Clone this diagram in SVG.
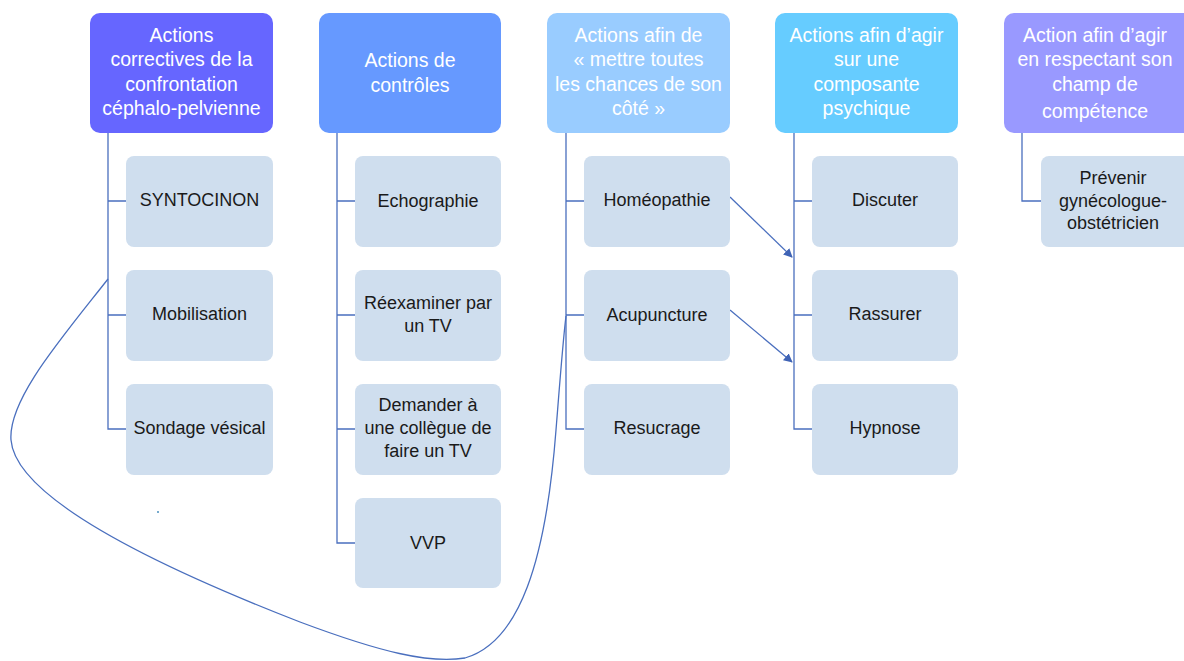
<svg xmlns="http://www.w3.org/2000/svg" width="1184" height="661" viewBox="0 0 1184 661">
<defs>
<style>
.h text{font-family:"Liberation Sans",Arial,sans-serif;font-size:19.5px;fill:#ffffff;text-anchor:middle}
.c rect{fill:#cfdeee}
.c text{font-family:"Liberation Sans",Arial,sans-serif;font-size:18px;fill:#1a1a1a;text-anchor:middle}
.ln{fill:none;stroke:#4a6fbe;stroke-width:1.3}
</style>
<marker id="ah" viewBox="0 0 10 10" refX="9" refY="5" markerWidth="9" markerHeight="9" markerUnits="userSpaceOnUse" orient="auto"><path d="M0,0 L10,5 L0,10 z" fill="#3f63b5"/></marker>
</defs>
<rect width="1184" height="661" fill="#ffffff"/>
<g id="connectors">
<path class="ln" d="M108,133 V429 H126 M108,201 H126 M108,315 H126"/>
<path class="ln" d="M337,133 V543 H355 M337,201 H355 M337,315 H355 M337,429 H355"/>
<path class="ln" d="M566,133 V429 H584 M566,201 H584 M566,315 H584"/>
<path class="ln" d="M794,133 V429 H812 M794,201 H812 M794,315 H812"/>
<path class="ln" d="M1022,133 V201 H1041"/>
<path class="ln" d="M730,197 L792,257" marker-end="url(#ah)"/>
<path class="ln" d="M730,310 L792,362" marker-end="url(#ah)"/>
<path class="ln" d="M108,279 C60,340 8,400 11,440 C15,490 120,552 300,622 C380,652 430,664 465,658 C520,642 546,560 556,430 C560,380 563,340 566,316"/>
<circle cx="158" cy="512" r="1" fill="#4a8fbe"/>
</g>
<g id="h1" class="h"><rect x="90" y="13" width="183" height="120" rx="10" fill="#6666ff"/>
<text x="181.5" y="42">Actions</text><text x="181.5" y="66">correctives de la</text><text x="181.5" y="91">confrontation</text><text x="181.5" y="115">céphalo-pelvienne</text></g>
<g id="h2" class="h"><rect x="319" y="13" width="182" height="120" rx="10" fill="#6699ff"/>
<text x="410" y="67">Actions de</text><text x="410" y="92">contrôles</text></g>
<g id="h3" class="h"><rect x="547" y="13" width="183" height="120" rx="10" fill="#99ccff"/>
<text x="638.5" y="42">Actions afin de</text><text x="638.5" y="66">« mettre toutes</text><text x="638.5" y="91">les chances de son</text><text x="638.5" y="115">côté »</text></g>
<g id="h4" class="h"><rect x="775" y="13" width="183" height="120" rx="10" fill="#66ccff"/>
<text x="866.5" y="42">Actions afin d’agir</text><text x="866.5" y="66">sur une</text><text x="866.5" y="91">composante</text><text x="866.5" y="115">psychique</text></g>
<g id="h5" class="h"><rect x="1004" y="13" width="190" height="120" rx="10" fill="#9999ff"/>
<text x="1095" y="42">Action afin d’agir</text><text x="1095" y="66">en respectant son</text><text x="1095" y="91">champ de</text><text x="1095" y="118">compétence</text></g>
<g id="n1a" class="c"><rect x="126" y="156" width="147" height="91" rx="8"/><text x="199.5" y="206">SYNTOCINON</text></g>
<g id="n1b" class="c"><rect x="126" y="270" width="147" height="91" rx="8"/><text x="199.5" y="320">Mobilisation</text></g>
<g id="n1c" class="c"><rect x="126" y="384" width="147" height="91" rx="8"/><text x="199.5" y="434">Sondage vésical</text></g>
<g id="n2a" class="c"><rect x="355" y="156" width="146" height="91" rx="8"/><text x="428" y="207">Echographie</text></g>
<g id="n2b" class="c"><rect x="355" y="270" width="146" height="91" rx="8"/><text x="428" y="309">Réexaminer par</text><text x="428" y="332">un TV</text></g>
<g id="n2c" class="c"><rect x="355" y="384" width="146" height="91" rx="8"/><text x="428" y="411">Demander à</text><text x="428" y="434">une collègue de</text><text x="428" y="457">faire un TV</text></g>
<g id="n2d" class="c"><rect x="355" y="498" width="146" height="90" rx="8"/><text x="428" y="549">VVP</text></g>
<g id="n3a" class="c"><rect x="584" y="156" width="146" height="91" rx="8"/><text x="657" y="206">Homéopathie</text></g>
<g id="n3b" class="c"><rect x="584" y="270" width="146" height="91" rx="8"/><text x="657" y="321">Acupuncture</text></g>
<g id="n3c" class="c"><rect x="584" y="384" width="146" height="91" rx="8"/><text x="657" y="434">Resucrage</text></g>
<g id="n4a" class="c"><rect x="812" y="156" width="146" height="91" rx="8"/><text x="885" y="206">Discuter</text></g>
<g id="n4b" class="c"><rect x="812" y="270" width="146" height="91" rx="8"/><text x="885" y="320">Rassurer</text></g>
<g id="n4c" class="c"><rect x="812" y="384" width="146" height="91" rx="8"/><text x="885" y="434">Hypnose</text></g>
<g id="n5a" class="c"><rect x="1041" y="156" width="150" height="91" rx="8"/><text x="1113" y="184">Prévenir</text><text x="1113" y="207">gynécologue-</text><text x="1113" y="229">obstétricien</text></g>
</svg>
